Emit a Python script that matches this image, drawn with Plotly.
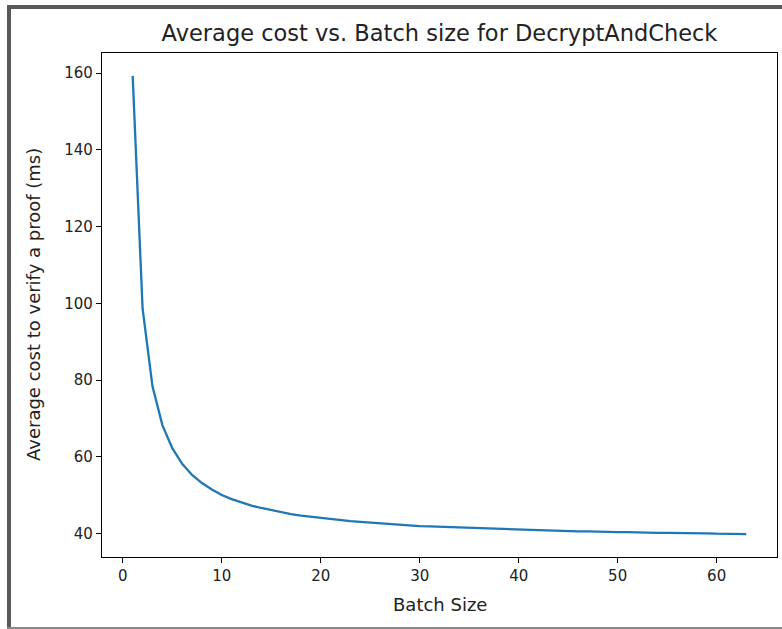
import plotly.graph_objects as go

batch_size = list(range(1, 64))
avg_cost_ms = [
    159.3, 98.7, 78.4, 68.3, 62.3, 58.2, 55.3, 53.2, 51.5, 50.1,
    49.0, 48.1, 47.3, 46.7, 46.1, 45.6, 45.1, 44.7, 44.4, 44.1,
    43.8, 43.5, 43.3, 43.1, 42.9, 42.7, 42.5, 42.3, 42.2, 42.0,
    41.9, 41.8, 41.7, 41.6, 41.5, 41.4, 41.3, 41.2, 41.1, 41.0,
    41.0, 40.9, 40.8, 40.8, 40.7, 40.6, 40.6, 40.5, 40.5, 40.4,
    40.4, 40.3, 40.3, 40.2, 40.2, 40.2, 40.1, 40.1, 40.1, 40.0,
    40.0, 40.0, 39.9,
]
x_ticks = [0, 10, 20, 30, 40, 50, 60]
y_ticks = [40, 60, 80, 100, 120, 140, 160]

title_text = "Average cost vs. Batch size for DecryptAndCheck"
x_label = "Batch Size"
y_label = "Average cost to verify a proof (ms)"

W, H = 782, 629
L, R, T, B = 102, 5, 53, 72
pw, ph = W - L - R, H - T - B

def px(x):
    return (x - L) / pw

def py(y):
    return (H - B - y) / ph

FONT = "DejaVu Sans"
fig = go.Figure()
fig.add_trace(go.Scatter(x=batch_size, y=avg_cost_ms, mode="lines",
                         line=dict(color="#1f77b4", width=2.3), showlegend=False))

axis_common = dict(showgrid=False, zeroline=False, showline=True, linecolor="black",
                   linewidth=1.2, mirror=True, ticks="outside", ticklen=5,
                   tickcolor="black", tickwidth=1.2,
                   tickfont=dict(family=FONT, size=15, color="#222"))
xmin, xmax = min(batch_size), max(batch_size)
ymin, ymax = min(avg_cost_ms), max(avg_cost_ms)
xm = (xmax - xmin) * 0.05
ym = (ymax - ymin) * 0.05
fig.update_xaxes(range=[xmin - xm, xmax + xm], tickvals=x_ticks, **axis_common)
fig.update_yaxes(range=[ymin - ym, ymax + ym], tickvals=y_ticks, **axis_common)

grey = "#595959"
fig.update_layout(
    width=W, height=H,
    margin=dict(l=L, r=R, t=T, b=B),
    paper_bgcolor="white", plot_bgcolor="white",
    title=dict(text=title_text, x=(L + pw / 2) / W, xref="container", xanchor="center",
               y=1 - 33 / H, yref="container", yanchor="middle",
               font=dict(family=FONT, size=22.5, color="#222")),
    annotations=[
        dict(text=x_label, xref="paper", yref="paper", x=0.5, y=py(604),
             xanchor="center", yanchor="middle", showarrow=False,
             font=dict(family=FONT, size=18, color="#222")),
        dict(text=y_label, xref="paper", yref="paper", x=px(33), y=0.5,
             xanchor="center", yanchor="middle", showarrow=False, textangle=-90,
             font=dict(family=FONT, size=18, color="#222")),
    ],
    shapes=[
        dict(type="line", xref="paper", yref="paper", x0=px(9), x1=px(9), y0=py(5), y1=py(629),
             line=dict(color=grey, width=4)),
        dict(type="line", xref="paper", yref="paper", x0=px(7), x1=px(782), y0=py(7), y1=py(7),
             line=dict(color=grey, width=4)),
        dict(type="line", xref="paper", yref="paper", x0=px(7), x1=px(782), y0=py(628), y1=py(628),
             line=dict(color="#888", width=2)),
    ],
)

fig.write_html("out.html", config={"displayModeBar": False},
               post_script="document.body.style.margin='0';")
